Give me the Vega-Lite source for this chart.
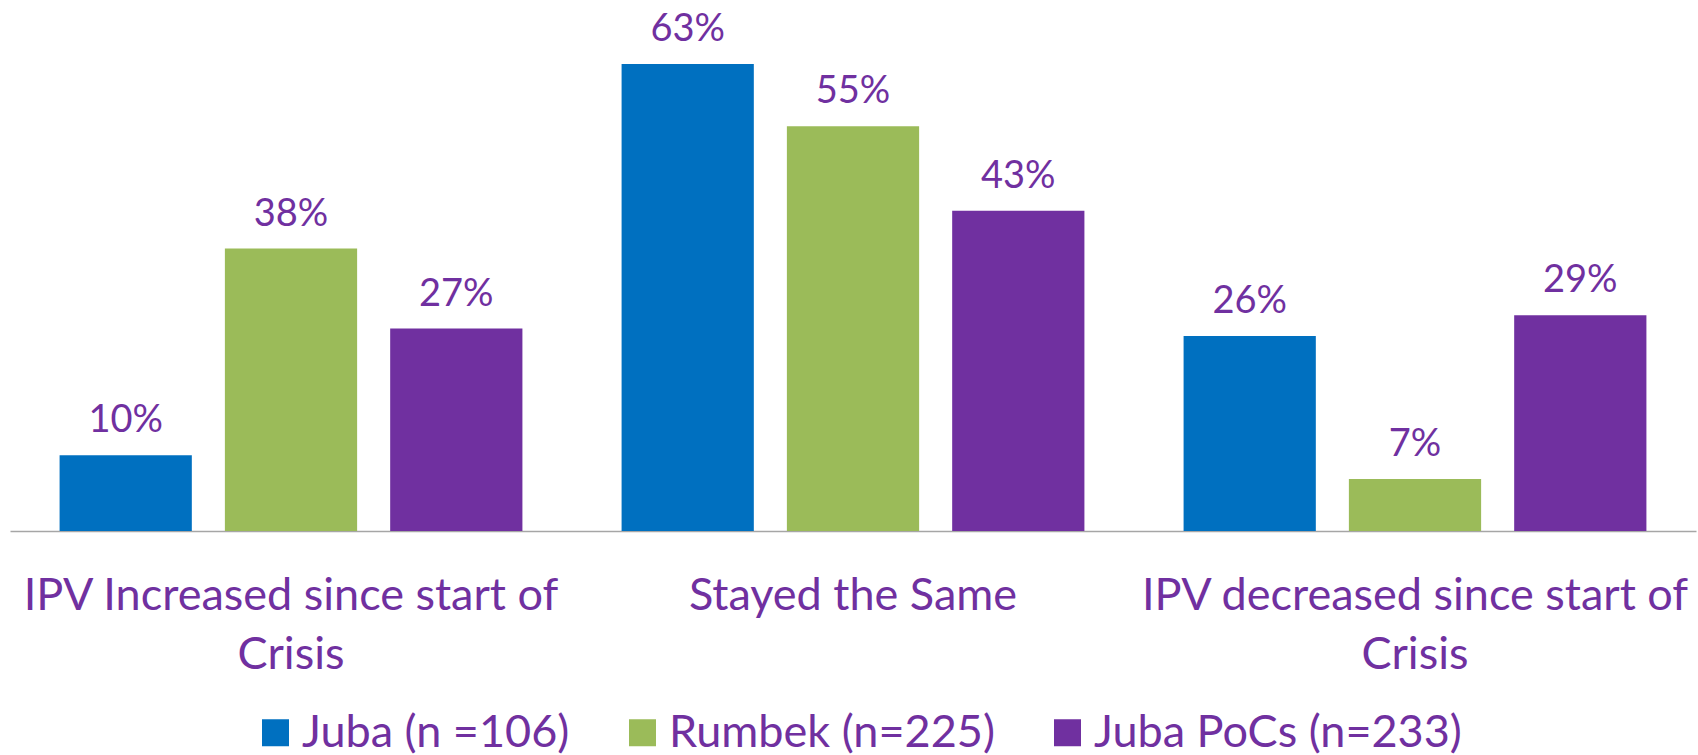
{
  "$schema": "https://vega.github.io/schema/vega-lite/v6.json",
  "width": 1686,
  "height": 519,
  "autosize": {"type": "none"},
  "padding": {"left": 10, "top": 12, "right": 2, "bottom": 224},
  "background": "white",
  "config": {"view": {"stroke": null}, "font": "Lato"},
  "data": {
    "values": [
      {"category": "IPV Increased since start of Crisis", "location": "Juba (n =106)", "value": 0.102},
      {"category": "IPV Increased since start of Crisis", "location": "Rumbek (n=225)", "value": 0.381},
      {"category": "IPV Increased since start of Crisis", "location": "Juba PoCs (n=233)", "value": 0.273},
      {"category": "Stayed the Same", "location": "Juba (n =106)", "value": 0.63},
      {"category": "Stayed the Same", "location": "Rumbek (n=225)", "value": 0.546},
      {"category": "Stayed the Same", "location": "Juba PoCs (n=233)", "value": 0.432},
      {"category": "IPV decreased since start of Crisis", "location": "Juba (n =106)", "value": 0.263},
      {"category": "IPV decreased since start of Crisis", "location": "Rumbek (n=225)", "value": 0.07},
      {"category": "IPV decreased since start of Crisis", "location": "Juba PoCs (n=233)", "value": 0.291}
    ]
  },
  "encoding": {
    "x": {
      "field": "category",
      "type": "nominal",
      "sort": ["IPV Increased since start of Crisis", "Stayed the Same", "IPV decreased since start of Crisis"],
      "scale": {"paddingInner": 0, "paddingOuter": 0},
      "axis": {
        "title": null,
        "labelAngle": 0,
        "ticks": false,
        "domainColor": "#A6A6A6",
        "domainWidth": 1.5,
        "labelColor": "#7030A0",
        "labelFont": "Lato",
        "labelFontSize": 45,
        "labelLineHeight": 59,
        "labelBaseline": "top",
        "labelPadding": 42,
        "labelLimit": 0,
        "labelExpr": "indexof(datum.label, ' Crisis') > 0 ? [replace(datum.label, ' Crisis', ''), 'Crisis'] : datum.label"
      }
    },
    "xOffset": {
      "field": "location",
      "type": "nominal",
      "sort": ["Juba (n =106)", "Rumbek (n=225)", "Juba PoCs (n=233)"],
      "scale": {"paddingInner": 0.2, "paddingOuter": 0.3}
    },
    "y": {
      "field": "value",
      "type": "quantitative",
      "scale": {"domain": [0, 0.7], "nice": false},
      "axis": null
    }
  },
  "layer": [
    {
      "mark": {"type": "bar"},
      "encoding": {
        "color": {
          "field": "location",
          "type": "nominal",
          "sort": ["Juba (n =106)", "Rumbek (n=225)", "Juba PoCs (n=233)"],
          "scale": {
            "domain": ["Juba (n =106)", "Rumbek (n=225)", "Juba PoCs (n=233)"],
            "range": ["#0070C0", "#9BBB59", "#7030A0"]
          },
          "legend": {
            "title": null,
            "orient": "none",
            "legendX": 243,
            "legendY": 698,
            "direction": "horizontal",
            "symbolType": "square",
            "symbolSize": 729,
            "symbolStrokeWidth": 0,
            "labelFont": "Lato",
            "labelFontSize": 45,
            "labelColor": "#7030A0",
            "labelOffset": 4,
            "labelLimit": 0,
            "columnPadding": 50
          }
        }
      }
    },
    {
      "mark": {
        "type": "text",
        "baseline": "alphabetic",
        "dy": -23,
        "font": "Lato",
        "fontSize": 38,
        "color": "#7030A0"
      },
      "encoding": {
        "text": {"field": "value", "type": "quantitative", "format": ".0%"}
      }
    }
  ]
}
